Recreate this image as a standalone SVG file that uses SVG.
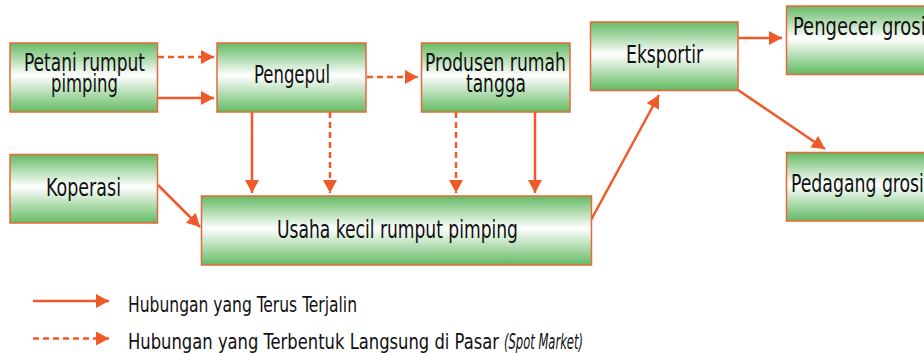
<svg xmlns="http://www.w3.org/2000/svg" width="924" height="353" viewBox="0 0 924 353">
  <style>
    .box { fill: url(#boxFill); stroke: #E8683A; stroke-width: 1.5; }
    .lbl { font-family: "Liberation Sans Narrow", "DejaVu Sans Condensed", "DejaVu Sans", sans-serif; font-stretch: condensed; font-size: 25px; fill: #111111; }
    .leg { font-family: "Liberation Sans Narrow", "DejaVu Sans Condensed", "DejaVu Sans", sans-serif; font-stretch: condensed; font-size: 22px; fill: #111111; }
    .solid { fill: none; stroke: #F05A28; stroke-width: 2.5; marker-end: url(#head); }
    .dash { fill: none; stroke: #F05A28; stroke-width: 2.5; stroke-dasharray: 6 4; marker-end: url(#head); }
  </style>
  <defs>
    <linearGradient id="boxFill" x1="0" y1="0" x2="0" y2="1">
      <stop offset="0" stop-color="#64BA63"/>
      <stop offset="0.47" stop-color="#FFFFFF"/>
      <stop offset="1" stop-color="#64BA63"/>
    </linearGradient>
    <marker id="head" markerUnits="userSpaceOnUse" markerWidth="14" markerHeight="15" refX="13" refY="7" orient="auto">
      <path d="M0,0 L13,7 L0,14 z" fill="#F05A28"/>
    </marker>
  </defs>

  <rect width="924" height="353" fill="#FFFFFF"/>

  <!-- connectors -->
  <g id="connectors">
    <path class="dash" d="M158,57 L214,57"/>
    <path class="solid" d="M158,98 L214,98"/>
    <path class="dash" d="M367,77 L418,77"/>
    <path class="solid" d="M252,112 L252,193"/>
    <path class="dash" d="M330,112 L330,193"/>
    <path class="dash" d="M456,112 L456,193"/>
    <path class="solid" d="M535,112 L535,193"/>
    <path class="solid" d="M158,185 L200,227"/>
    <path class="solid" d="M591,220 L659,95"/>
    <path class="solid" d="M738,38 L782,38"/>
    <path class="solid" d="M738,90 L825,149"/>
  </g>

  <!-- nodes -->
  <g id="petani">
    <rect class="box" x="10" y="43" width="147.5" height="69"/>
    <text class="lbl" x="24" y="71" textLength="121" lengthAdjust="spacingAndGlyphs">Petani rumput</text>
    <text class="lbl" x="51" y="92" textLength="67" lengthAdjust="spacingAndGlyphs">pimping</text>
  </g>
  <g id="pengepul">
    <rect class="box" x="217" y="43" width="149" height="69"/>
    <text class="lbl" x="254" y="83" textLength="76" lengthAdjust="spacingAndGlyphs">Pengepul</text>
  </g>
  <g id="produsen">
    <rect class="box" x="421.5" y="43" width="148.5" height="69"/>
    <text class="lbl" x="425" y="71" textLength="141" lengthAdjust="spacingAndGlyphs">Produsen rumah</text>
    <text class="lbl" x="466" y="92" textLength="60" lengthAdjust="spacingAndGlyphs">tangga</text>
  </g>
  <g id="eksportir">
    <rect class="box" x="590.5" y="22" width="147.5" height="68.5"/>
    <text class="lbl" x="626" y="63" textLength="77" lengthAdjust="spacingAndGlyphs">Eksportir</text>
  </g>
  <g id="pengecer">
    <rect class="box" x="786.5" y="6" width="148" height="68.5"/>
    <text class="lbl" x="793" y="35" textLength="140" lengthAdjust="spacingAndGlyphs">Pengecer grosir</text>
  </g>
  <g id="pedagang">
    <rect class="box" x="786.5" y="152.5" width="148" height="68.5"/>
    <text class="lbl" x="791" y="192" textLength="140" lengthAdjust="spacingAndGlyphs">Pedagang grosir</text>
  </g>
  <g id="koperasi">
    <rect class="box" x="10" y="154.5" width="147.5" height="68.5"/>
    <text class="lbl" x="46" y="196" textLength="75" lengthAdjust="spacingAndGlyphs">Koperasi</text>
  </g>
  <g id="usaha">
    <rect class="box" x="201.5" y="196" width="390" height="69"/>
    <text class="lbl" x="277" y="238" textLength="241" lengthAdjust="spacingAndGlyphs">Usaha kecil rumput pimping</text>
  </g>

  <!-- legend -->
  <g id="legend">
    <path class="solid" d="M33,301 L109,301"/>
    <text class="leg" x="128" y="311.5" textLength="229" lengthAdjust="spacingAndGlyphs">Hubungan yang Terus Terjalin</text>
    <path class="dash" d="M33,338.5 L109,338.5"/>
    <text class="leg" x="128" y="348.5" textLength="371" lengthAdjust="spacingAndGlyphs">Hubungan yang Terbentuk Langsung di Pasar</text>
    <text class="leg" x="504" y="348.5" font-style="italic" font-size="18" textLength="79" lengthAdjust="spacingAndGlyphs">(Spot Market)</text>
  </g>
</svg>
